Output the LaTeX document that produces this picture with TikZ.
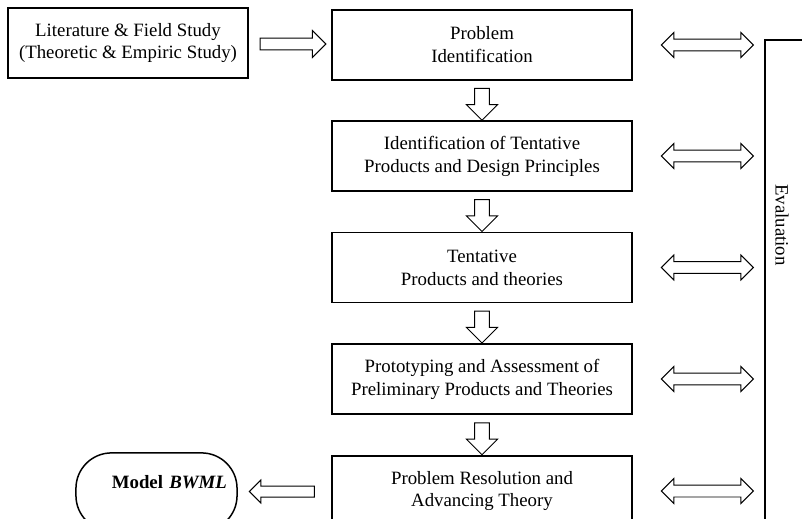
\documentclass[tikz,border=0pt]{standalone}
\usepackage{fontspec}
\setmainfont{Liberation Serif}
\usetikzlibrary{positioning, shapes.arrows, calc}

\begin{document}
\begin{tikzpicture}[
  x=0.0211cm, y=-0.0211cm,
  stepbox/.style={
    draw,
    line width=0.9pt,
    minimum width=6.33cm,
    minimum height=1.477cm,
    align=center,
    font=\fontsize{11.3}{13.8}\selectfont
  },
  blockarrow/.style={
    single arrow,
    draw,
    line width=0.6pt,
    inner sep=0pt
  },
  dblarrow/.style={
    double arrow,
    draw,
    line width=0.6pt,
    inner sep=0pt,
    double arrow head extend=0.137cm,
    minimum height=1.94cm,
    text height=0.232cm
  }
]
\useasboundingbox (0,0) rectangle (802,519);
\clip (0,0) rectangle (802,519);

% steps
\node[stepbox] (prob) at (482,45) {Problem\\Identification};
\node[stepbox] (ident) at (482,156) {Identification of Tentative\\Products and Design Principles};
\node[stepbox] (tent) at (482,267.5) {Tentative\\Products and theories};
\node[stepbox] (proto) at (482,379) {Prototyping and Assessment of\\Preliminary Products and Theories};
\node[stepbox] (resol) at (482,491) {Problem Resolution and\\Advancing Theory};

% input and output
\node[stepbox, minimum width=5.06cm] (lit) at (128,43) {Literature \& Field Study\\(Theoretic \& Empiric Study)};
\node[draw, line width=0.9pt, rounded corners=0.75cm,
  minimum width=3.4cm, minimum height=1.65cm,
  text width=2.97cm, align=right, text depth=0.42cm,
  font=\fontsize{11.3}{13.8}\selectfont\bfseries] (model) at (156.5,492) {Model \textit{BWML}};

% block arrows
\node[blockarrow, minimum height=1.39cm, single arrow head extend=0.159cm, text height=0.232cm]
  (a0) at ($(lit.east)!0.5!(prob.west)$) {};
\foreach \from/\to in {prob/ident, ident/tent, tent/proto, proto/resol}
  \node[blockarrow, rotate=-90, minimum height=0.675cm, single arrow head extend=0.169cm, text height=0.295cm]
    (d-\from) at ($(\from.south)!0.5!(\to.north)$) {};
\node[blockarrow, rotate=180, minimum height=1.37cm, single arrow head extend=0.127cm, text height=0.211cm]
  (a6) at ($(model.east)!0.5!(resol.west)$) {};

% evaluation
\foreach \s in {prob, ident, tent, proto, resol}
  \node[dblarrow, right=0.59cm of \s] (e-\s) {};
\draw[line width=0.9pt] (830,40) -| (765,540);
\node[rotate=-90, font=\fontsize{11.3}{13.8}\selectfont] (eval) at (782,225) {Evaluation};

\end{tikzpicture}
\end{document}
